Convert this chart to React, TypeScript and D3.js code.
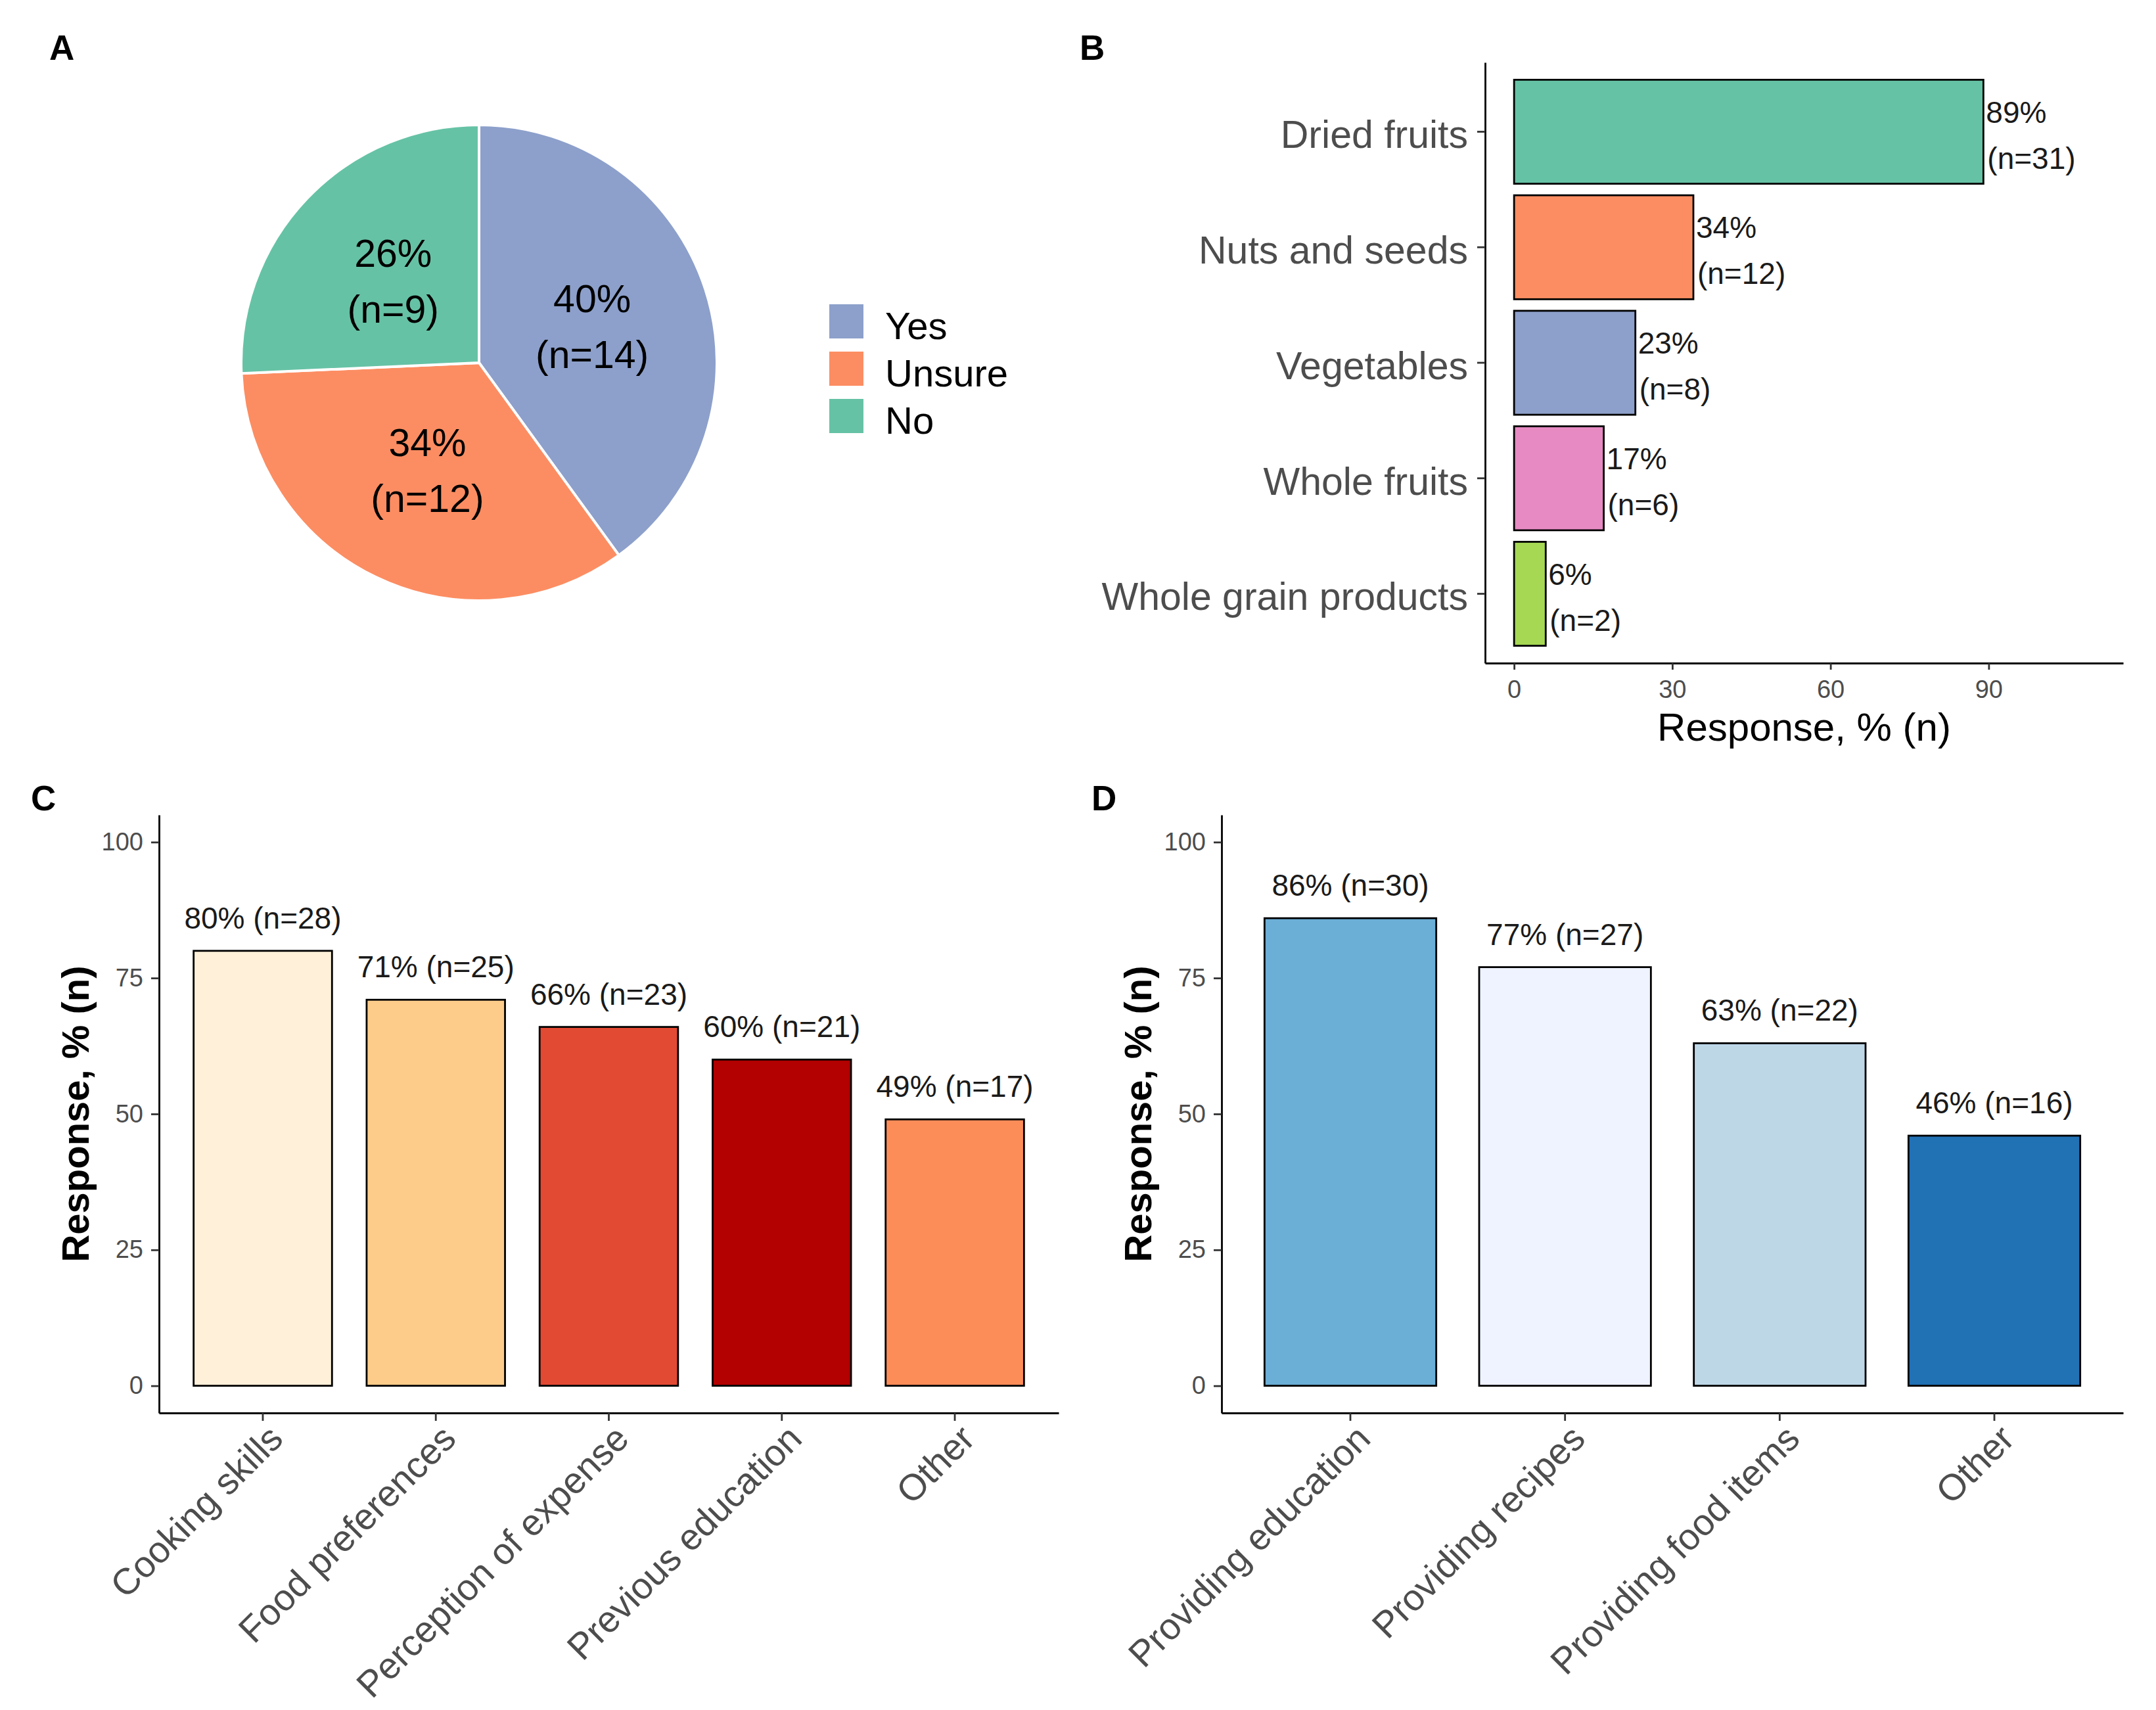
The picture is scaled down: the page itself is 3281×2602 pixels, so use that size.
import React, { useRef, useEffect } from 'react';
import * as d3 from 'd3';

const W = 3281;
const H = 2602;
const FONT = "'Liberation Sans', Arial, Helvetica, sans-serif";
const AXIS_TEXT = '#4D4D4D';

// Panel A - pie
const awareLabels = ['Yes', 'Unsure', 'No'];
const awareCounts = [14, 12, 9];
const awarePct = [40, 34, 26];
const awareColors = ['#8DA0CB', '#FC8D62', '#66C2A5'];

// Panel B - horizontal bars
const foodCats = ['Dried fruits', 'Nuts and seeds', 'Vegetables', 'Whole fruits', 'Whole grain products'];
const foodPct = [89, 34, 23, 17, 6];
const foodN = [31, 12, 8, 6, 2];
const foodColors = ['#66C2A5', '#FC8D62', '#8DA0CB', '#E78AC3', '#A6D854'];
const foodTicks = [0, 30, 60, 90];

// Panel C - barriers
const barrierCats = ['Cooking skills', 'Food preferences', 'Perception of expense', 'Previous education', 'Other'];
const barrierPct = [80, 71, 66, 60, 49];
const barrierN = [28, 25, 23, 21, 17];
const barrierColors = ['#FEF0D9', '#FDCC8A', '#E34A33', '#B30000', '#FC8D59'];

// Panel D - supports
const supportCats = ['Providing education', 'Providing recipes', 'Providing food items', 'Other'];
const supportPct = [86, 77, 63, 46];
const supportN = [30, 27, 22, 16];
const supportColors = ['#6BAED6', '#EFF3FF', '#BDD7E7', '#2171B5'];

const yTicks = [0, 25, 50, 75, 100];

type Sel = d3.Selection<SVGGElement, unknown, null, undefined>;

function styleAxis(g: Sel, fontSize: number) {
  g.select('.domain').attr('stroke', '#000').attr('stroke-width', 2.8);
  g.selectAll('.tick line').attr('stroke', '#333').attr('stroke-width', 2.8);
  g.selectAll('.tick text')
    .attr('fill', AXIS_TEXT)
    .attr('font-size', fontSize)
    .attr('font-family', FONT);
}

function drawColumns(
  svg: d3.Selection<SVGSVGElement, unknown, null, undefined>,
  cats: string[],
  pct: number[],
  n: number[],
  colors: string[],
  left: number,
  right: number,
  top: number,
  bottom: number
) {
  const x = d3.scaleBand<string>().domain(cats).range([left, right]).paddingInner(0.2).paddingOuter(0.2);
  const y = d3.scaleLinear().domain([-5, 105]).range([bottom, top]);

  const g = svg.append('g');

  g.selectAll('rect.bar')
    .data(cats)
    .enter()
    .append('rect')
    .attr('class', 'bar')
    .attr('x', (d) => x(d) as number)
    .attr('width', x.bandwidth())
    .attr('y', (d, i) => y(pct[i]))
    .attr('height', (d, i) => y(0) - y(pct[i]))
    .attr('fill', (d, i) => colors[i])
    .attr('stroke', '#000')
    .attr('stroke-width', 2.8);

  g.selectAll('text.val')
    .data(cats)
    .enter()
    .append('text')
    .attr('class', 'val')
    .attr('x', (d) => (x(d) as number) + x.bandwidth() / 2)
    .attr('y', (d, i) => y(pct[i]) - 34)
    .attr('text-anchor', 'middle')
    .attr('font-family', FONT)
    .attr('font-size', 46)
    .attr('fill', '#1A1A1A')
    .text((d, i) => `${pct[i]}% (n=${n[i]})`);

  const yAxis = g
    .append('g')
    .attr('transform', `translate(${left},0)`)
    .call(d3.axisLeft(y).tickValues(yTicks).tickSize(12).tickPadding(12).tickSizeOuter(0));
  styleAxis(yAxis, 38);

  const xAxis = g
    .append('g')
    .attr('transform', `translate(0,${bottom})`)
    .call(d3.axisBottom(x).tickSize(12).tickSizeOuter(0));
  styleAxis(xAxis, 56);
  // 45 degree labels, right/top corner pinned under the tick
  xAxis
    .selectAll('.tick text')
    .attr('x', 0)
    .attr('y', 0)
    .attr('dy', '0.72em')
    .attr('text-anchor', 'end')
    .attr('transform', 'translate(5,14) rotate(-45)');

  g.append('text')
    .attr('transform', `translate(${left - 107},${(top + bottom) / 2}) rotate(-90)`)
    .attr('text-anchor', 'middle')
    .attr('font-family', FONT)
    .attr('font-weight', 'bold')
    .attr('font-size', 58)
    .attr('fill', '#000')
    .text('Response, % (n)');
}

const App: React.FC = () => {
  const svgRef = useRef<SVGSVGElement>(null);

  useEffect(() => {
    if (!svgRef.current) return;
    const svg = d3.select(svgRef.current);
    svg.selectAll('*').remove();

    svg.append('rect').attr('width', W).attr('height', H).attr('fill', '#fff');

    // Panel tags
    const tags: [string, number, number][] = [
      ['A', 75, 91],
      ['B', 1643, 91],
      ['C', 47, 1233],
      ['D', 1661, 1233],
    ];
    svg
      .selectAll('text.tag')
      .data(tags)
      .enter()
      .append('text')
      .attr('class', 'tag')
      .attr('x', (d) => d[1])
      .attr('y', (d) => d[2])
      .attr('font-family', FONT)
      .attr('font-weight', 'bold')
      .attr('font-size', 53)
      .text((d) => d[0]);

    // ---- A: pie ----
    const radius = 362;
    const pieG = svg.append('g').attr('transform', 'translate(729,552)');
    const pie = d3.pie<number>().sort(null).value((d) => d);
    const slices = pie(awareCounts);
    const arc = d3.arc<d3.PieArcDatum<number>>().innerRadius(0).outerRadius(radius);
    const labelArc = d3.arc<d3.PieArcDatum<number>>().innerRadius(radius / 2).outerRadius(radius / 2);

    pieG
      .selectAll('path')
      .data(slices)
      .enter()
      .append('path')
      .attr('d', arc)
      .attr('fill', (d, i) => awareColors[i])
      .attr('stroke', '#fff')
      .attr('stroke-width', 4);

    const pieText = pieG
      .selectAll('text')
      .data(slices)
      .enter()
      .append('text')
      .attr('transform', (d) => `translate(${labelArc.centroid(d)})`)
      .attr('text-anchor', 'middle')
      .attr('font-family', FONT)
      .attr('font-size', 59)
      .attr('fill', '#000');
    pieText
      .append('tspan')
      .attr('x', 0)
      .attr('y', -42)
      .attr('dy', '0.35em')
      .text((d, i) => `${awarePct[i]}%`);
    pieText
      .append('tspan')
      .attr('x', 0)
      .attr('y', 43)
      .attr('dy', '0.35em')
      .text((d) => `(n=${d.data})`);

    // legend
    const legend = svg
      .selectAll('g.legend')
      .data(awareLabels)
      .enter()
      .append('g')
      .attr('class', 'legend')
      .attr('transform', (d, i) => `translate(1262,${463 + i * 72})`);
    legend
      .append('rect')
      .attr('width', 52)
      .attr('height', 52)
      .attr('fill', (d, i) => awareColors[i]);
    legend
      .append('text')
      .attr('x', 85)
      .attr('y', 32)
      .attr('dy', '0.36em')
      .attr('font-family', FONT)
      .attr('font-size', 58)
      .attr('fill', '#000')
      .text((d) => d);

    // ---- B: horizontal bars ----
    const bLeft = 2260;
    const bRight = 3231;
    const bTop = 95;
    const bBottom = 1009;
    const bx = d3.scaleLinear().domain([-5.5, 115.5]).range([bLeft, bRight]);
    const by = d3.scaleBand<string>().domain(foodCats).range([bTop, bBottom]).paddingInner(0.1).paddingOuter(0.15);
    const bG = svg.append('g');

    bG.selectAll('rect')
      .data(foodCats)
      .enter()
      .append('rect')
      .attr('x', bx(0))
      .attr('y', (d) => by(d) as number)
      .attr('height', by.bandwidth())
      .attr('width', (d, i) => bx(foodPct[i]) - bx(0))
      .attr('fill', (d, i) => foodColors[i])
      .attr('stroke', '#000')
      .attr('stroke-width', 2.8);

    const bLab = bG
      .selectAll('text.val')
      .data(foodCats)
      .enter()
      .append('text')
      .attr('class', 'val')
      .attr('font-family', FONT)
      .attr('font-size', 46)
      .attr('fill', '#1A1A1A');
    bLab
      .append('tspan')
      .attr('x', (d, i) => bx(foodPct[i]) + 4)
      .attr('y', (d) => (by(d) as number) + by.bandwidth() / 2 - 30)
      .attr('dy', '0.35em')
      .text((d, i) => `${foodPct[i]}%`);
    bLab
      .append('tspan')
      .attr('x', (d, i) => bx(foodPct[i]) + 6)
      .attr('y', (d) => (by(d) as number) + by.bandwidth() / 2 + 40)
      .attr('dy', '0.35em')
      .text((d, i) => `(n=${foodN[i]})`);

    const bYAxis = bG
      .append('g')
      .attr('transform', `translate(${bLeft},0)`)
      .call(d3.axisLeft(by).tickSize(12).tickPadding(14).tickSizeOuter(0));
    styleAxis(bYAxis, 59);
    bYAxis.selectAll('.tick text').attr('dy', '0.42em');

    const bXAxis = bG
      .append('g')
      .attr('transform', `translate(0,${bBottom})`)
      .call(d3.axisBottom(bx).tickValues(foodTicks).tickSize(10).tickPadding(16).tickSizeOuter(0));
    styleAxis(bXAxis, 38);

    bG.append('text')
      .attr('x', (bLeft + bRight) / 2)
      .attr('y', 1127)
      .attr('text-anchor', 'middle')
      .attr('font-family', FONT)
      .attr('font-size', 60)
      .attr('fill', '#000')
      .text('Response, % (n)');

    // ---- C and D: columns ----
    drawColumns(svg, barrierCats, barrierPct, barrierN, barrierColors, 242, 1611, 1240, 2150);
    drawColumns(svg, supportCats, supportPct, supportN, supportColors, 1859, 3231, 1240, 2150);
  }, []);

  return (
    <div style={{ position: 'absolute', left: 0, top: 0 }}>
      <svg ref={svgRef} width={W} height={H} style={{ display: 'block' }} />
    </div>
  );
};

export default App;
